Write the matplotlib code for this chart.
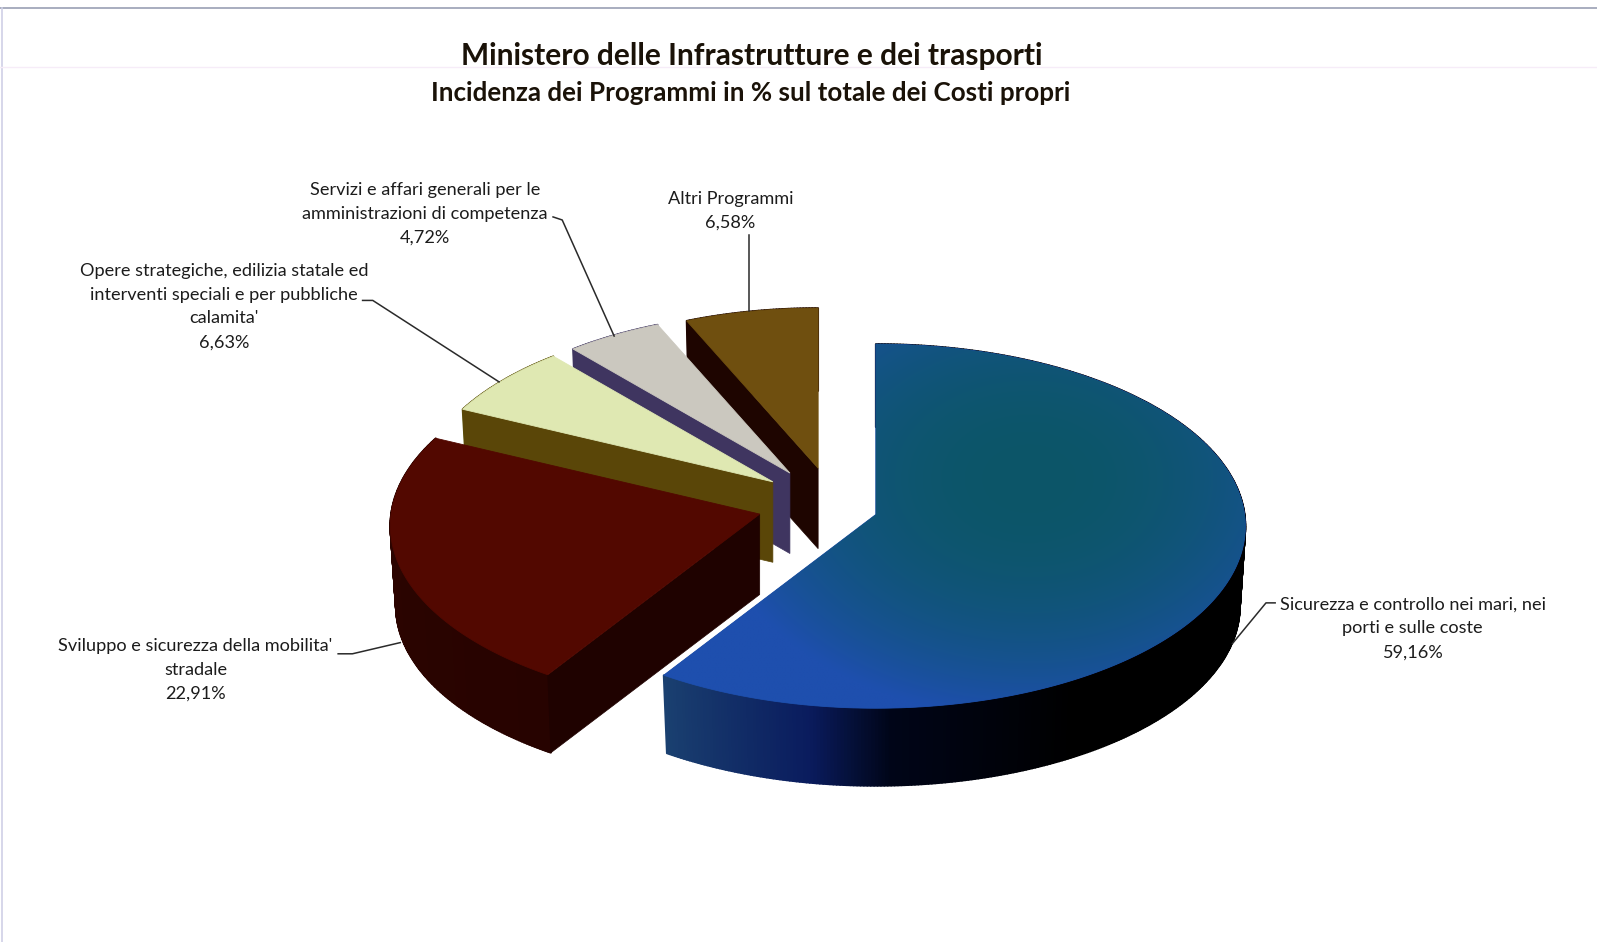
import numpy as np
import matplotlib
matplotlib.use("Agg")
import matplotlib.pyplot as plt
from matplotlib.patches import Polygon
from matplotlib.collections import PolyCollection
from matplotlib.colors import to_rgb

# ---------- data ----------
categories = ["Sicurezza e controllo nei mari, nei\nporti e sulle coste",
              "Sviluppo e sicurezza della mobilita'\nstradale",
              "Opere strategiche, edilizia statale ed\ninterventi speciali e per pubbliche\ncalamita'",
              "Servizi e affari generali per le\namministrazioni di competenza",
              "Altri Programmi"]
values = [59.16, 22.91, 6.63, 4.72, 6.58]
title_main = "Ministero delle Infrastrutture e dei trasporti"
title_sub = "Incidenza dei Programmi in % sul totale dei Costi propri"

# ---------- style ----------
top_colors = ["#1c4da6", "#520800", "#dfe8b2", "#cbc8bf", "#6f4f0f"]
cut_colors = ["#102a66", "#1f0200", "#5a4608", "#3f3560", "#1e0500"]
rim_stops = [[(0, "#000000"), (150, "#000000"), (178, "#000518"), (190, "#0a1c5e"), (213, "#1a4070")],
             [(213, "#270300"), (295.5, "#2e0500")],
             [(295.5, "#5a5008"), (319.4, "#5a5008")],
             [(319.4, "#3f3560"), (336.4, "#3f3560")],
             [(336.4, "#1e0500"), (360, "#1e0500")]]
label_pos = [(1387, 617), (192, 658), (220, 301), (417, 210), (717, 207)]
leaders = [[(1252, 592), (1243, 592), (1210, 632)],
           [(332, 642), (346, 642), (393, 631)],
           [(356, 295), (366, 295), (490, 375)],
           [(543, 213), (552, 216), (603, 330)],
           [(735, 231), (735, 305)]]
CX, CY = 803, 495
EXP_X, EXP_Y = 57.3, 36
SHEAR = 0.2
NUDGE_X = [2, -2, -5, -5, 3]
A, B, K = 362, 178, 0.064
DEPTH = 79
FONT = "Lato"

fig = plt.figure(figsize=(15.97, 9.42), dpi=100, facecolor="white")
ax = fig.add_axes([0, 0, 1, 1])
ax.set_xlim(0, 1568)
ax.set_ylim(925, 0)
ax.axis("off")

# frame left by the scan
ax.plot([0, 1568], [8, 8], color="#9a9fb4", lw=1.2, zorder=1)
ax.plot([1.5, 1.5], [8, 925], color="#cfd0e6", lw=1.2, zorder=1)
ax.plot([0, 1568], [66, 66], color="#f6ecf8", lw=1.0, zorder=1)


def point(theta, apex, f, extra=0.0, scale=1.0):
    t = np.radians(theta)
    v = np.cos(t)
    s = f * scale / (1 + K * v)
    return apex[0] + A * np.sin(t) * s, apex[1] - B * v * s + extra


def mix(stops, th):
    ths = [p[0] for p in stops]
    cols = np.array([to_rgb(p[1]) for p in stops])
    return [float(np.interp(th, ths, cols[:, i])) for i in range(3)]


total = sum(values)
start = 0.0
z = 10
order = []
for i, val in enumerate(values):
    end = start + val / total * 360
    order.append((i, start, end))
    start = end

for i, a0, a1 in sorted(order, key=lambda r: {0: 4, 1: 3, 2: 2, 3: 1, 4: 0}[r[0]]):
    mid = np.radians((a0 + a1) / 2)
    ay = CY - EXP_Y * np.cos(mid)
    ax_ = CX + EXP_X * np.sin(mid) + SHEAR * (505 - ay) + NUDGE_X[i]
    apex = (ax_, ay)
    f = 1 + 0.00133 * (ay - 505)
    thetas = np.linspace(a0, a1, max(int(a1 - a0) * 2, 8))
    # outer rim
    quads, cols = [], []
    for t0, t1 in zip(thetas[:-1], thetas[1:]):
        quads.append([point(t0, apex, f), point(t1, apex, f),
                      point(t1, apex, f, DEPTH, 0.985), point(t0, apex, f, DEPTH, 0.985)])
        cols.append(mix(rim_stops[i], (t0 + t1) / 2))
    ax.add_collection(PolyCollection(quads, facecolors=cols, edgecolors=cols, linewidths=1.3, zorder=z))
    # visible cut face at the starting angle
    p = point(a0, apex, f)
    bottom_apex = (apex[0], apex[1] + DEPTH)
    ax.add_patch(Polygon([apex, p, point(a0, apex, f, DEPTH, 0.985), bottom_apex],
                         closed=True, fc=cut_colors[i], ec=cut_colors[i], lw=0.5, zorder=z + 1))
    # top face
    outline = [apex] + [point(t, apex, f) for t in thetas]
    poly = Polygon(outline, closed=True, fc=top_colors[i], ec=top_colors[i], lw=0.6, zorder=z + 2)
    ax.add_patch(poly)
    if i == 0:
        # teal centre fading to a brighter blue towards the rim
        xx, yy = np.meshgrid(np.linspace(640, 1240, 300), np.linspace(330, 710, 190))
        d = np.clip(np.hypot((xx - 1010) / 320, (yy - 470) / 235), 0, 1) ** 2.2
        c0, c1 = np.array(to_rgb("#0c5668")), np.array(to_rgb("#1e4fae"))
        img = c0[None, None, :] * (1 - d[..., None]) + c1[None, None, :] * d[..., None]
        im = ax.imshow(img, extent=(640, 1240, 710, 330), zorder=z + 3, aspect="auto", interpolation="bilinear")
        im.set_clip_path(poly)
    z += 5
ax.set_xlim(0, 1568)
ax.set_ylim(925, 0)

# labels and leader lines
for cat, val, pos, pts in zip(categories, values, label_pos, leaders):
    txt = cat + "\n" + f"{val:.2f}".replace(".", ",") + "%"
    ax.text(pos[0], pos[1], txt, ha="center", va="center", fontsize=13.1, family=FONT,
            color="#1c1c1c", linespacing=1.6, zorder=50)
    xs, ys = zip(*pts)
    ax.plot(xs, ys, color="#2a2a2a", lw=1.1, zorder=45)

ax.text(738, 55, title_main, ha="center", va="center", fontsize=21.5, family=FONT, weight="bold", color="#1a1208", zorder=50)
ax.text(737, 91, title_sub, ha="center", va="center", fontsize=18.7, family=FONT, weight="bold", color="#1a1208", zorder=50)

fig.savefig("out.png", dpi=100)
